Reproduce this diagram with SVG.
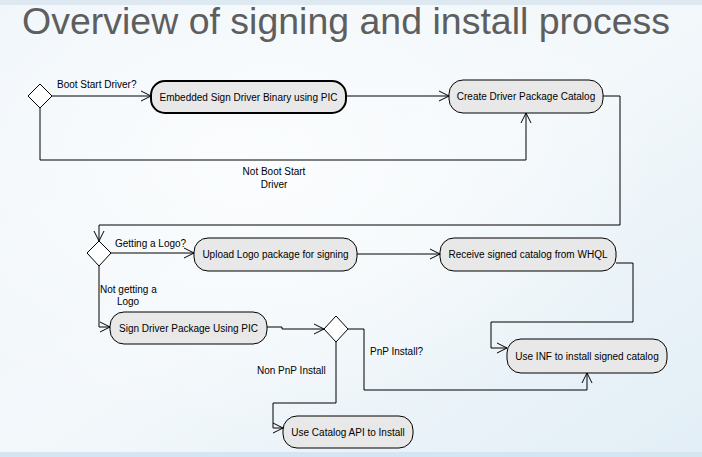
<svg xmlns="http://www.w3.org/2000/svg" width="702" height="457" viewBox="0 0 702 457">
<defs>
<linearGradient id="bg" x1="0" y1="0" x2="1" y2="1">
<stop offset="0" stop-color="#eef5fa"/>
<stop offset="0.5" stop-color="#f3f8fb"/>
<stop offset="1" stop-color="#e2eef6"/>
</linearGradient>
<radialGradient id="glow" cx="0.35" cy="0.35" r="0.6">
<stop offset="0" stop-color="#ffffff" stop-opacity="0.7"/>
<stop offset="1" stop-color="#ffffff" stop-opacity="0"/>
</radialGradient>
<marker id="arr" markerUnits="userSpaceOnUse" markerWidth="12" markerHeight="12" refX="11" refY="6" orient="auto" viewBox="0 0 12 12">
<path d="M1,1 L11,6 L1,11" fill="none" stroke="#000" stroke-width="1"/>
</marker>
<style>
.node rect{fill:#e8e8e8;stroke:#000;stroke-width:1}
.node text,.lbl{font-family:"Liberation Sans",Arial,sans-serif;font-size:10px;fill:#000}
.node text{text-anchor:middle;dominant-baseline:central}
.dia{fill:#fff;stroke:#000;stroke-width:1}
.conn path{fill:none;stroke:#000;stroke-width:1;marker-end:url(#arr)}
.title{font-family:"Liberation Sans",Arial,sans-serif;font-size:37px;fill:#5e5e5e}
</style>
</defs>
<rect width="702" height="457" fill="url(#bg)"/>
<rect width="702" height="457" fill="url(#glow)"/>
<rect width="702" height="5" fill="#dde8f0"/>
<rect y="452" width="702" height="5" fill="#d4e6f1"/>
<text class="title" x="22" y="34" textLength="648" lengthAdjust="spacingAndGlyphs">Overview of signing and install process</text>

<g class="conn" id="connectors">
<path d="M52,96 L151,96"/>
<path d="M346,96 L449,96"/>
<path d="M40,108 L40,160 L526,160 L526,113"/>
<path d="M603,96 L620,96 L620,225 L99,225 L99,241"/>
<path d="M111,253 L194,253"/>
<path d="M357,254 L440,254"/>
<path d="M616,263 L633,263 L633,322 L491,322 L491,348 L507,348"/>
<path d="M99,266 L99,327 L110,327"/>
<path d="M267,327 L282,327 L282,329 L324,329"/>
<path d="M348,329 L364,329 L364,390 L587,390 L587,373"/>
<path d="M336,342 L336,403 L273,403 L273,428 L283,428"/>
</g>

<g id="labels">
<text class="lbl" x="57" y="88">Boot Start Driver?</text>
<text class="lbl" x="274" y="175" text-anchor="middle">Not Boot Start</text>
<text class="lbl" x="274" y="188" text-anchor="middle">Driver</text>
<text class="lbl" x="115" y="247">Getting a Logo?</text>
<text class="lbl" x="100" y="293">Not getting a</text>
<text class="lbl" x="128" y="305" text-anchor="middle">Logo</text>
<text class="lbl" x="370" y="355">PnP Install?</text>
<text class="lbl" x="257" y="374">Non PnP Install</text>
</g>

<g id="d1"><polygon class="dia" points="40,84 52,96 40,108 28,96"/></g>
<g id="d2"><polygon class="dia" points="99,241 111,253 99,266 87,253"/></g>
<g id="d3"><polygon class="dia" points="336,316 348,329 336,342 324,329"/></g>

<g class="node" id="n-embedded"><rect x="151" y="81" width="195" height="32" rx="14" style="stroke-width:2"/><text x="248.5" y="97">Embedded Sign Driver Binary using PIC</text></g>
<g class="node" id="n-catalog"><rect x="449" y="80" width="154" height="33" rx="14"/><text x="526" y="96.5">Create Driver Package Catalog</text></g>
<g class="node" id="n-upload"><rect x="194" y="238" width="163" height="33" rx="14"/><text x="275.5" y="254.5">Upload Logo package for signing</text></g>
<g class="node" id="n-receive"><rect x="440" y="238" width="176" height="33" rx="14"/><text x="528" y="254.5">Receive signed catalog from WHQL</text></g>
<g class="node" id="n-sign"><rect x="110" y="312" width="157" height="32" rx="14"/><text x="188.5" y="328">Sign Driver Package Using PIC</text></g>
<g class="node" id="n-inf"><rect x="507" y="339" width="160" height="34" rx="14"/><text x="587" y="356">Use INF to install signed catalog</text></g>
<g class="node" id="n-api"><rect x="283" y="416" width="130" height="32" rx="14"/><text x="348" y="432">Use Catalog API to Install</text></g>
</svg>
